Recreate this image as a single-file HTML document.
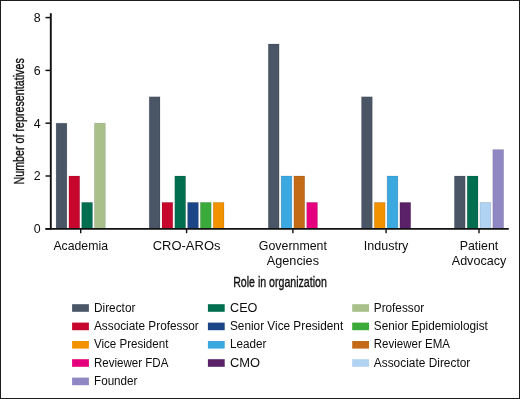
<!DOCTYPE html>
<html><head><meta charset="utf-8"><style>
html,body{margin:0;padding:0;background:#fff;}
body{width:520px;height:399px;overflow:hidden;position:relative;}
.frame{position:absolute;left:0;top:0;width:518px;height:397px;border:1px solid #1c1c1c;}
svg{position:absolute;left:0;top:0;will-change:transform;}
text{font-family:"Liberation Sans",sans-serif;fill:#0d0d0d;}
.xl{font-size:12.2px;}
.yl{font-size:12.4px;}
.lg{font-size:12.3px;}
.tt{font-size:14.6px;fill:#111;stroke:#111;stroke-width:0.36px;}
</style></head><body>
<div class="frame"></div>
<svg width="520" height="399" viewBox="0 0 520 399">
<rect x="56.10" y="123.20" width="10.8" height="105.60" fill="#4a5566" stroke="#000" stroke-opacity="0.16" stroke-width="0.7"/>
<rect x="68.90" y="176.00" width="10.8" height="52.80" fill="#c6062c" stroke="#000" stroke-opacity="0.16" stroke-width="0.7"/>
<rect x="81.70" y="202.40" width="10.8" height="26.40" fill="#006e4f" stroke="#000" stroke-opacity="0.16" stroke-width="0.7"/>
<rect x="94.50" y="123.20" width="10.8" height="105.60" fill="#a9c08b" stroke="#000" stroke-opacity="0.16" stroke-width="0.7"/>
<line x1="80.70" y1="229" x2="80.70" y2="233.2" stroke="#111" stroke-width="1.4"/>
<text x="80.70" y="249.70" text-anchor="middle" class="xl" textLength="54.6" lengthAdjust="spacingAndGlyphs">Academia</text>
<rect x="149.20" y="96.80" width="10.8" height="132.00" fill="#4a5566" stroke="#000" stroke-opacity="0.16" stroke-width="0.7"/>
<rect x="162.00" y="202.40" width="10.8" height="26.40" fill="#c6062c" stroke="#000" stroke-opacity="0.16" stroke-width="0.7"/>
<rect x="174.80" y="176.00" width="10.8" height="52.80" fill="#006e4f" stroke="#000" stroke-opacity="0.16" stroke-width="0.7"/>
<rect x="187.60" y="202.40" width="10.8" height="26.40" fill="#1b4586" stroke="#000" stroke-opacity="0.16" stroke-width="0.7"/>
<rect x="200.40" y="202.40" width="10.8" height="26.40" fill="#3aaa3a" stroke="#000" stroke-opacity="0.16" stroke-width="0.7"/>
<rect x="213.20" y="202.40" width="10.8" height="26.40" fill="#f39200" stroke="#000" stroke-opacity="0.16" stroke-width="0.7"/>
<line x1="186.60" y1="229" x2="186.60" y2="233.2" stroke="#111" stroke-width="1.4"/>
<text x="186.60" y="249.70" text-anchor="middle" class="xl" textLength="67.7" lengthAdjust="spacingAndGlyphs">CRO-AROs</text>
<rect x="268.30" y="44.00" width="10.8" height="184.80" fill="#4a5566" stroke="#000" stroke-opacity="0.16" stroke-width="0.7"/>
<rect x="281.10" y="176.00" width="10.8" height="52.80" fill="#3ca8e0" stroke="#000" stroke-opacity="0.16" stroke-width="0.7"/>
<rect x="293.90" y="176.00" width="10.8" height="52.80" fill="#c46b18" stroke="#000" stroke-opacity="0.16" stroke-width="0.7"/>
<rect x="306.70" y="202.40" width="10.8" height="26.40" fill="#e5007e" stroke="#000" stroke-opacity="0.16" stroke-width="0.7"/>
<line x1="292.90" y1="229" x2="292.90" y2="233.2" stroke="#111" stroke-width="1.4"/>
<text x="292.90" y="249.70" text-anchor="middle" class="xl" textLength="68.1" lengthAdjust="spacingAndGlyphs">Government</text>
<text x="292.90" y="264.90" text-anchor="middle" class="xl" textLength="52.2" lengthAdjust="spacingAndGlyphs">Agencies</text>
<rect x="361.50" y="96.80" width="10.8" height="132.00" fill="#4a5566" stroke="#000" stroke-opacity="0.16" stroke-width="0.7"/>
<rect x="374.30" y="202.40" width="10.8" height="26.40" fill="#f39200" stroke="#000" stroke-opacity="0.16" stroke-width="0.7"/>
<rect x="387.10" y="176.00" width="10.8" height="52.80" fill="#3ca8e0" stroke="#000" stroke-opacity="0.16" stroke-width="0.7"/>
<rect x="399.90" y="202.40" width="10.8" height="26.40" fill="#5b2168" stroke="#000" stroke-opacity="0.16" stroke-width="0.7"/>
<line x1="386.10" y1="229" x2="386.10" y2="233.2" stroke="#111" stroke-width="1.4"/>
<text x="386.10" y="249.70" text-anchor="middle" class="xl" textLength="44.5" lengthAdjust="spacingAndGlyphs">Industry</text>
<rect x="454.40" y="176.00" width="10.8" height="52.80" fill="#4a5566" stroke="#000" stroke-opacity="0.16" stroke-width="0.7"/>
<rect x="467.20" y="176.00" width="10.8" height="52.80" fill="#006e4f" stroke="#000" stroke-opacity="0.16" stroke-width="0.7"/>
<rect x="480.00" y="202.40" width="10.8" height="26.40" fill="#b1d3f3" stroke="#000" stroke-opacity="0.16" stroke-width="0.7"/>
<rect x="492.80" y="149.60" width="10.8" height="79.20" fill="#8e87c3" stroke="#000" stroke-opacity="0.16" stroke-width="0.7"/>
<line x1="479.00" y1="229" x2="479.00" y2="233.2" stroke="#111" stroke-width="1.4"/>
<text x="479.00" y="249.70" text-anchor="middle" class="xl" textLength="38.5" lengthAdjust="spacingAndGlyphs">Patient</text>
<text x="479.00" y="264.90" text-anchor="middle" class="xl" textLength="54.5" lengthAdjust="spacingAndGlyphs">Advocacy</text>
<line x1="50.8" y1="13.2" x2="50.8" y2="229.7" stroke="#111" stroke-width="1.9"/>
<line x1="45.5" y1="228.9" x2="508.8" y2="228.9" stroke="#111" stroke-width="1.8"/>
<line x1="45.5" y1="228.80" x2="50.8" y2="228.80" stroke="#111" stroke-width="1.5"/>
<text x="40.6" y="233.10" text-anchor="end" class="yl">0</text>
<line x1="45.5" y1="176.00" x2="50.8" y2="176.00" stroke="#111" stroke-width="1.5"/>
<text x="40.6" y="180.30" text-anchor="end" class="yl">2</text>
<line x1="45.5" y1="123.20" x2="50.8" y2="123.20" stroke="#111" stroke-width="1.5"/>
<text x="40.6" y="127.50" text-anchor="end" class="yl">4</text>
<line x1="45.5" y1="70.40" x2="50.8" y2="70.40" stroke="#111" stroke-width="1.5"/>
<text x="40.6" y="74.70" text-anchor="end" class="yl">6</text>
<line x1="45.5" y1="17.60" x2="50.8" y2="17.60" stroke="#111" stroke-width="1.5"/>
<text x="40.6" y="21.90" text-anchor="end" class="yl">8</text>
<text x="0" y="0" class="tt" text-anchor="middle" transform="translate(280,286.7) scale(0.727,1)">Role in organization</text>
<text x="0" y="0" class="tt" text-anchor="middle" transform="translate(24.2,121.4) rotate(-90) scale(0.735,1)">Number of representatives</text>
<rect x="72.1" y="304.2" width="16.8" height="7.6" fill="#4a5566"/>
<text x="94.0" y="311.50" class="lg" textLength="41.4" lengthAdjust="spacingAndGlyphs">Director</text>
<rect x="72.1" y="322.6" width="16.8" height="7.6" fill="#c6062c"/>
<text x="94.0" y="329.90" class="lg" textLength="104.8" lengthAdjust="spacingAndGlyphs">Associate Professor</text>
<rect x="72.1" y="341.0" width="16.8" height="7.6" fill="#f39200"/>
<text x="94.0" y="348.30" class="lg" textLength="74.4" lengthAdjust="spacingAndGlyphs">Vice President</text>
<rect x="72.1" y="359.2" width="16.8" height="7.6" fill="#e5007e"/>
<text x="94.0" y="366.50" class="lg" textLength="74.4" lengthAdjust="spacingAndGlyphs">Reviewer FDA</text>
<rect x="72.1" y="377.6" width="16.8" height="7.6" fill="#8e87c3"/>
<text x="94.0" y="384.90" class="lg" textLength="43.5" lengthAdjust="spacingAndGlyphs">Founder</text>
<rect x="207.9" y="304.2" width="16.8" height="7.6" fill="#006e4f"/>
<text x="230.0" y="311.50" class="lg" textLength="27.4" lengthAdjust="spacingAndGlyphs">CEO</text>
<rect x="207.9" y="322.6" width="16.8" height="7.6" fill="#1b4586"/>
<text x="230.0" y="329.90" class="lg" textLength="113.2" lengthAdjust="spacingAndGlyphs">Senior Vice President</text>
<rect x="207.9" y="341.0" width="16.8" height="7.6" fill="#3ca8e0"/>
<text x="230.0" y="348.30" class="lg" textLength="36.4" lengthAdjust="spacingAndGlyphs">Leader</text>
<rect x="207.9" y="359.2" width="16.8" height="7.6" fill="#5b2168"/>
<text x="230.0" y="366.50" class="lg" textLength="30.1" lengthAdjust="spacingAndGlyphs">CMO</text>
<rect x="352.2" y="304.2" width="16.8" height="7.6" fill="#a9c08b"/>
<text x="373.8" y="311.50" class="lg" textLength="50.3" lengthAdjust="spacingAndGlyphs">Professor</text>
<rect x="352.2" y="322.6" width="16.8" height="7.6" fill="#3aaa3a"/>
<text x="373.8" y="329.90" class="lg" textLength="114" lengthAdjust="spacingAndGlyphs">Senior Epidemiologist</text>
<rect x="352.2" y="341.0" width="16.8" height="7.6" fill="#c46b18"/>
<text x="373.8" y="348.30" class="lg" textLength="76.1" lengthAdjust="spacingAndGlyphs">Reviewer EMA</text>
<rect x="352.2" y="359.2" width="16.8" height="7.6" fill="#b1d3f3"/>
<text x="373.8" y="366.50" class="lg" textLength="96.5" lengthAdjust="spacingAndGlyphs">Associate Director</text>
</svg>
</body></html>
